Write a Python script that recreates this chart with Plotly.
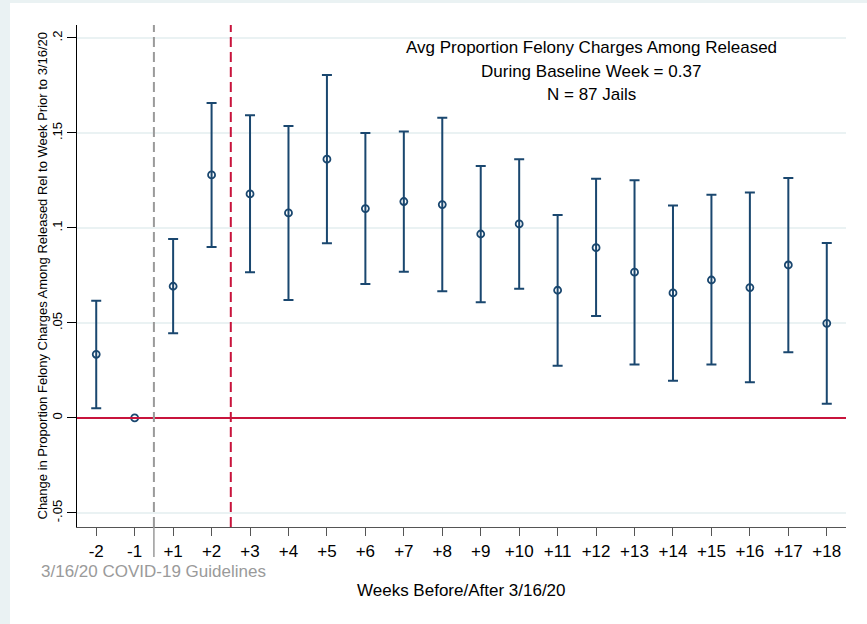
import plotly.graph_objects as go

# ---- data ----
week_labels = ["-2", "-1", "+1", "+2", "+3", "+4", "+5", "+6", "+7", "+8", "+9",
               "+10", "+11", "+12", "+13", "+14", "+15", "+16", "+17", "+18"]
estimate = [0.0335, 0.0, 0.0693, 0.1279, 0.1179, 0.1079, 0.1362, 0.1102, 0.1139, 0.1123,
            0.0968, 0.1021, 0.0672, 0.0896, 0.0767, 0.0658, 0.0726, 0.0686, 0.0805, 0.0498]
ci_upper = [0.0617, None, 0.0942, 0.1658, 0.1593, 0.1537, 0.1805, 0.1500, 0.1507, 0.1580,
            0.1326, 0.1362, 0.1068, 0.1259, 0.1251, 0.1118, 0.1174, 0.1186, 0.1263, 0.0921]
ci_lower = [0.0051, None, 0.0446, 0.0900, 0.0767, 0.0621, 0.0919, 0.0705, 0.0770, 0.0667,
            0.0609, 0.0680, 0.0275, 0.0537, 0.0281, 0.0196, 0.0281, 0.0188, 0.0346, 0.0075]
y_ticks = [-0.05, 0, 0.05, 0.1, 0.15, 0.2]
y_tick_labels = ["-.05", "0", ".05", ".1", ".15", ".2"]
note_lines = ["Avg Proportion Felony Charges Among Released",
              "During Baseline Week = 0.37",
              "N = 87 Jails"]

NAVY = "#1A476F"
RED = "#C8143C"
GRAY = "#9A9A9A"
BG = "#EAF2F3"
FONT = "Liberation Sans, Arial, Helvetica, sans-serif"

pos = list(range(len(week_labels)))
ci_idx = [i for i in pos if ci_upper[i] is not None]
ref_idx = [i for i in pos if ci_upper[i] is None]

fig = go.Figure()
fig.add_trace(go.Scatter(
    x=[pos[i] for i in ci_idx],
    y=[estimate[i] for i in ci_idx],
    mode="markers",
    marker=dict(symbol="circle-open", size=7, color=NAVY, line=dict(width=1.8, color=NAVY)),
    error_y=dict(type="data", symmetric=False,
                 array=[ci_upper[i] - estimate[i] for i in ci_idx],
                 arrayminus=[estimate[i] - ci_lower[i] for i in ci_idx],
                 color=NAVY, thickness=2, width=5),
    showlegend=False, hoverinfo="skip"))
fig.add_trace(go.Scatter(
    x=[pos[i] for i in ref_idx],
    y=[estimate[i] for i in ref_idx],
    mode="markers",
    marker=dict(symbol="circle-open", size=7, color=NAVY, line=dict(width=1.8, color=NAVY)),
    showlegend=False, hoverinfo="skip"))

shapes = [
    # white inner panel over light-blue page
    dict(type="rect", xref="paper", yref="paper", x0=-0.0871, x1=1.06, y0=-0.3, y1=1.0438,
         fillcolor="white", line=dict(width=0), layer="below"),
    # zero reference line
    dict(type="line", xref="paper", yref="y", x0=0, x1=1, y0=0, y1=0,
         line=dict(color=RED, width=2)),
    # guideline date (between -1 and +1)
    dict(type="line", xref="x", yref="paper", x0=1.5, x1=1.5, y0=0, y1=1,
         line=dict(color=GRAY, width=2, dash="10px,5px")),
    dict(type="line", xref="x", yref="paper", x0=1.5, x1=1.5, y0=-0.06, y1=0,
         line=dict(color=GRAY, width=1.5)),
    # second vertical (between +2 and +3)
    dict(type="line", xref="x", yref="paper", x0=3.5, x1=3.5, y0=0, y1=1,
         line=dict(color=RED, width=2, dash="10px,5px")),
]

annotations = []
for k, (txt, yp) in enumerate(zip(note_lines, [0.9556, 0.907, 0.8606])):
    annotations.append(dict(text=txt, xref="paper", yref="paper", x=0.669, y=yp,
                            xanchor="center", yanchor="middle", showarrow=False,
                            font=dict(size=17, color="black", family=FONT)))
annotations += [
    dict(text="Change in Proportion Felony Charges Among Released Rel to Week Prior to 3/16/20",
         xref="paper", yref="paper", x=-0.0455, y=0.501, textangle=-90,
         xanchor="center", yanchor="middle", showarrow=False,
         font=dict(size=13, color="black", family=FONT)),
    dict(text="Weeks Before/After 3/16/20", xref="paper", yref="paper", x=0.5, y=-0.1269,
         xanchor="center", yanchor="middle", showarrow=False,
         font=dict(size=17, color="black", family=FONT)),
    dict(text="3/16/20 COVID-19 Guidelines", xref="paper", yref="paper", x=0.0995, y=-0.089,
         xanchor="center", yanchor="middle", showarrow=False,
         font=dict(size=17, color=GRAY, family=FONT)),
]

fig.update_layout(
    width=867, height=624,
    margin=dict(l=77, r=21, t=25, b=97),
    paper_bgcolor=BG, plot_bgcolor="white",
    font=dict(family=FONT, color="black"),
    shapes=shapes, annotations=annotations,
    xaxis=dict(range=[-0.5, 19.5], tickmode="array", tickvals=pos, ticktext=week_labels,
               showgrid=False, zeroline=False, showline=True, linecolor="#555555", linewidth=1.2,
               ticks="outside", ticklen=8, tickcolor="#555555", tickwidth=1.2,
               tickfont=dict(size=17, color="black")),
    yaxis=dict(range=[-0.0574, 0.2068], tickmode="array", tickvals=y_ticks, ticktext=y_tick_labels,
               showgrid=True, gridcolor=BG, gridwidth=1.5, zeroline=False,
               showline=True, linecolor="black", linewidth=1.2,
               ticks="outside", ticklen=9, tickcolor="black", tickwidth=1.2,
               tickangle=-90, tickfont=dict(size=13, color="black")),
)

fig.write_html("out.html")
